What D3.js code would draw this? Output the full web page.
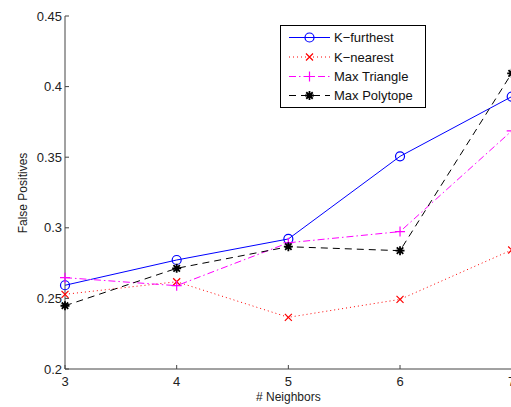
<!DOCTYPE html>
<html lang="en">
<head>
<meta charset="UTF-8">
<title>False Positives vs Neighbors</title>
<script src="https://d3js.org/d3.v7.min.js"></script>
<style>
  body { margin: 0; background: #fff; overflow: hidden; }
  svg { display: block; font-family: 'Liberation Sans', Arial, sans-serif; }
</style>
</head>
<body>
<svg width="511" height="407"></svg>
<script>
  const neighbors = [3, 4, 5, 6, 7];
  const kFurthest = [0.2593, 0.2772, 0.2921, 0.3506, 0.3929];
  const kNearest = [0.2529, 0.2618, 0.2366, 0.2493, 0.2843];
  const maxTriangle = [0.2647, 0.2590, 0.2894, 0.2973, 0.3686];
  const maxPolytope = [0.2448, 0.2713, 0.2866, 0.2838, 0.4094];
  const yTicks = [0.2, 0.25, 0.3, 0.35, 0.4, 0.45];

  const series = [
    { name: "K\u2212furthest", values: kFurthest, color: "#0000ff", dash: null, marker: "circle" },
    { name: "K\u2212nearest", values: kNearest, color: "#ff0000", dash: "1 3", marker: "x" },
    { name: "Max Triangle", values: maxTriangle, color: "#ff00ff", dash: "7 3 1.5 3", marker: "plus" },
    { name: "Max Polytope", values: maxPolytope, color: "#000000", dash: "7 5", marker: "star" }
  ];

  const svg = d3.select("svg");
  const plotLeft = 65, plotTop = 16, plotBottom = 369;
  const x = d3.scaleLinear().domain([3, 7]).range([plotLeft, 511.7]);
  const y = d3.scaleLinear().domain([0.2, 0.45]).range([plotBottom, plotTop]);

  // markers drawn as small paths
  function markerPath(type, s) {
    if (type === "x") return `M${-s},${-s}L${s},${s}M${-s},${s}L${s},${-s}`;
    if (type === "plus") return `M${-s},0L${s},0M0,${-s}L0,${s}`;
    if (type === "star") {
      const d = s * 0.72;
      return `M${-s},0L${s},0M0,${-s}L0,${s}M${-d},${-d}L${d},${d}M${-d},${d}L${d},${-d}`;
    }
    return null;
  }

  function drawMarker(g, type, color, cx, cy) {
    if (type === "circle") {
      g.append("circle").attr("cx", cx).attr("cy", cy).attr("r", 4.5)
        .attr("fill", "none").attr("stroke", color).attr("stroke-width", 1.2);
    } else {
      const s = type === "x" ? 3.5 : type === "plus" ? 5 : 4.5;
      g.append("path").attr("transform", `translate(${cx},${cy})`)
        .attr("d", markerPath(type, s))
        .attr("fill", "none").attr("stroke", color).attr("stroke-width", type === "star" ? 1.8 : 1.2);
    }
  }

  // Axes
  const axisColor = "#444";
  svg.append("line").attr("x1", plotLeft).attr("x2", plotLeft).attr("y1", plotTop).attr("y2", plotBottom)
    .attr("stroke", axisColor).attr("stroke-width", 1);
  svg.append("line").attr("x1", plotLeft).attr("x2", 520).attr("y1", plotBottom).attr("y2", plotBottom)
    .attr("stroke", axisColor).attr("stroke-width", 1);

  yTicks.forEach(t => {
    svg.append("line").attr("x1", plotLeft).attr("x2", plotLeft + 4).attr("y1", y(t)).attr("y2", y(t))
      .attr("stroke", axisColor);
    svg.append("text").attr("x", plotLeft - 3).attr("y", y(t) + 4.5)
      .attr("text-anchor", "end").attr("font-size", 13).attr("fill", "#222")
      .text(String(t));
  });

  neighbors.forEach(n => {
    svg.append("line").attr("x1", x(n)).attr("x2", x(n)).attr("y1", plotBottom).attr("y2", plotBottom - 4)
      .attr("stroke", axisColor);
    svg.append("text").attr("x", x(n)).attr("y", plotBottom + 17)
      .attr("text-anchor", "middle").attr("font-size", 13).attr("fill", "#222")
      .text(n);
  });

  svg.append("text").attr("x", x(5)).attr("y", 401)
    .attr("text-anchor", "middle").attr("font-size", 12).attr("fill", "#222")
    .text("# Neighbors");

  svg.append("text").attr("transform", "translate(27,193) rotate(-90)")
    .attr("text-anchor", "middle").attr("font-size", 12).attr("fill", "#222")
    .text("False Positives");

  // Lines
  const line = d3.line().x((d, i) => x(neighbors[i])).y(d => y(d));
  series.forEach(s => {
    svg.append("path").attr("d", line(s.values))
      .attr("fill", "none").attr("stroke", s.color).attr("stroke-width", 1)
      .attr("stroke-dasharray", s.dash);
    const mg = svg.append("g");
    s.values.forEach((v, i) => drawMarker(mg, s.marker, s.color, x(neighbors[i]), y(v)));
  });

  // Legend
  const lg = svg.append("g");
  lg.append("rect").attr("x", 280.5).attr("y", 25.5).attr("width", 145).attr("height", 82)
    .attr("fill", "#fff").attr("stroke", "#000").attr("stroke-width", 1);
  const rows = [37.5, 57, 76.5, 95.5];
  series.forEach((s, i) => {
    const yy = rows[i];
    lg.append("line").attr("x1", 289).attr("x2", 330).attr("y1", yy).attr("y2", yy)
      .attr("stroke", s.color).attr("stroke-width", 1).attr("stroke-dasharray", s.dash);
    drawMarker(lg, s.marker, s.color, 309.5, yy);
    lg.append("text").attr("x", 334).attr("y", yy + 4.5)
      .attr("font-size", 13).attr("fill", "#111").text(s.name);
  });
</script>
</body>
</html>
